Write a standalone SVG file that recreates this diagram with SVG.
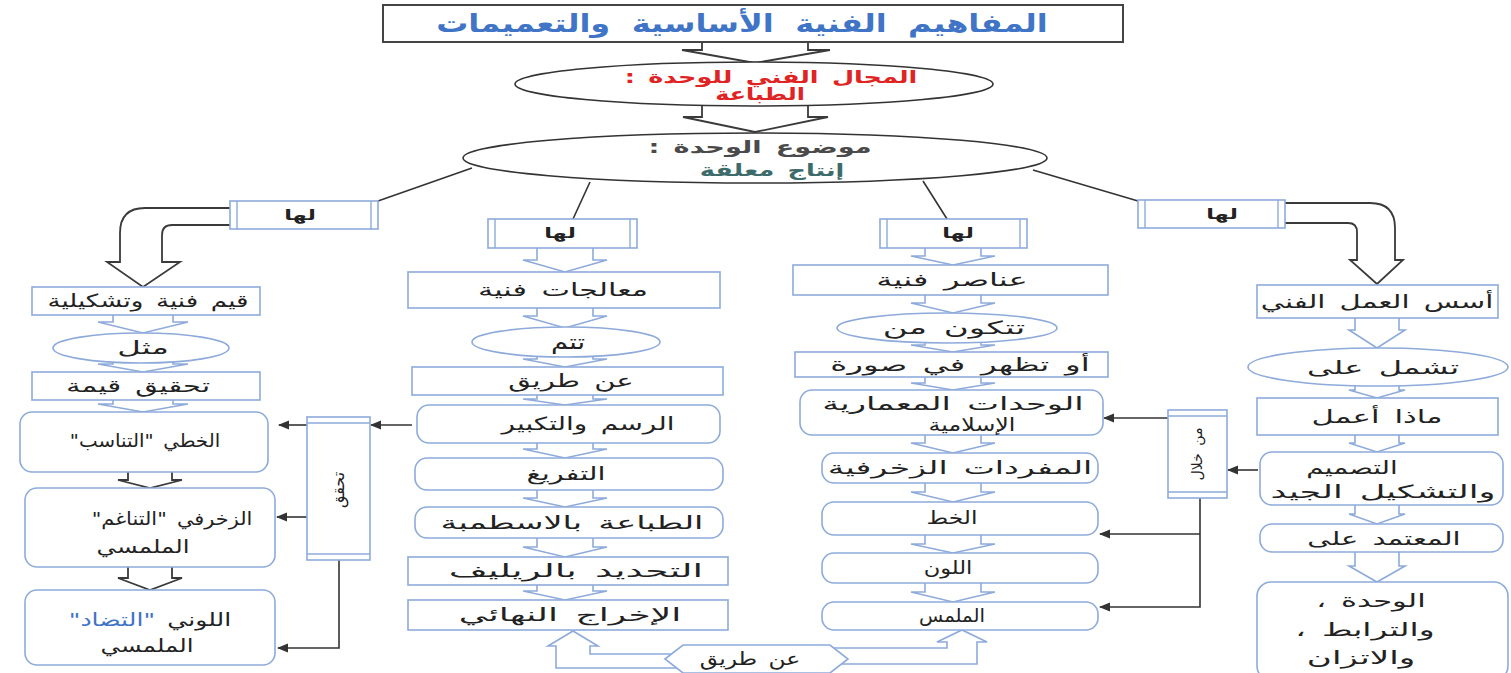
<svg xmlns="http://www.w3.org/2000/svg" width="1511" height="673" viewBox="0 0 1511 673">
<style>
.lb{fill:#fff;stroke:#8eaadb;stroke-width:1.6}
.dk{fill:#fff;stroke:#3a3a3a;stroke-width:1.8}
.ln{fill:none;stroke:#333;stroke-width:1.6}
.dl{fill:none;stroke:#8eaadb;stroke-width:1.4}
.t{font-family:"DejaVu Sans",sans-serif;font-size:18px;fill:#222;text-anchor:middle;direction:rtl;word-spacing:3px}
.s{font-size:14px;font-weight:bold}
.b{font-weight:bold}
</style>
<defs>
<marker id="ah" viewBox="0 0 10 10" refX="9" refY="5" markerWidth="7" markerHeight="7" orient="auto"><path d="M0,1 L10,5 L0,9 z" fill="#333"/></marker>
</defs>
<rect width="1511" height="673" fill="#fff"/>

<g id="connectors">
  <path class="dk" d="M702,42 L702,50 L682,50 L755,63 L830,50 L808,50 L808,42"/>
  <path class="dk" d="M702,105 L702,117 L683,117 L755,132 L828,117 L808,117 L808,105"/>
  <path class="ln" d="M472,168 L378,201"/>
  <path class="ln" d="M590,182 L573,219"/>
  <path class="ln" d="M923,181 L947,219"/>
  <path class="ln" d="M1033,170 L1138,201"/>
  <path class="dk" d="M230,208 L145,208 Q120,208 120,233 L120,262 L107,262 L143,287 L180,262 L162,262 L162,235 Q162,225 172,225 L230,225"/>
  <path class="dk" d="M1285,203 L1370,203 Q1395,203 1395,228 L1395,260 L1403,260 L1377,284 L1350,260 L1357,260 L1357,232 Q1357,223 1348,223 L1285,223"/>
  <path class="lb" d="M113,315 L113,322 L98,322 L143,333 L188,322 L173,322 L173,315"/>
  <path class="lb" d="M113,358 L113,364 L98,364 L143,372 L188,364 L173,364 L173,358"/>
  <path class="lb" d="M113,400 L113,404 L98,404 L143,412 L188,404 L173,404 L173,400"/>
  <path class="dk" d="M128,472 L128,480 L118,480 L150,488 L182,480 L172,480 L172,472"/>
  <path class="dk" d="M128,567 L128,578 L118,578 L150,590 L182,578 L172,578 L172,567"/>
  <path class="lb" d="M537,248 L537,260 L523,260 L565,272 L607,260 L593,260 L593,248"/>
  <path class="lb" d="M537,308 L537,316 L523,316 L565,328 L607,316 L593,316 L593,308"/>
  <path class="lb" d="M537,352 L537,359 L523,359 L565,367 L607,359 L593,359 L593,352"/>
  <path class="lb" d="M537,395 L537,399 L523,399 L565,405 L607,399 L593,399 L593,395"/>
  <path class="lb" d="M537,443 L537,449 L523,449 L565,458 L607,449 L593,449 L593,443"/>
  <path class="lb" d="M537,490 L537,498 L523,498 L565,507 L607,498 L593,498 L593,490"/>
  <path class="lb" d="M537,538 L537,547 L523,547 L565,557 L607,547 L593,547 L593,538"/>
  <path class="lb" d="M537,585 L537,591 L523,591 L565,600 L607,591 L593,591 L593,585"/>
  <path class="lb" d="M925,248 L925,256 L911,256 L953,265 L995,256 L981,256 L981,248"/>
  <path class="lb" d="M925,295 L925,303 L911,303 L953,313 L995,303 L981,303 L981,295"/>
  <path class="lb" d="M925,340 L925,345 L911,345 L953,352 L995,345 L981,345 L981,340"/>
  <path class="lb" d="M925,377 L925,383 L911,383 L953,390 L995,383 L981,383 L981,377"/>
  <path class="lb" d="M925,435 L925,443 L911,443 L953,453 L995,443 L981,443 L981,435"/>
  <path class="lb" d="M925,483 L925,492 L911,492 L953,502 L995,492 L981,492 L981,483"/>
  <path class="lb" d="M925,535 L925,544 L911,544 L953,553 L995,544 L981,544 L981,535"/>
  <path class="lb" d="M925,583 L925,592 L911,592 L953,602 L995,592 L981,592 L981,583"/>
  <path class="lb" d="M1355,318 L1355,330 L1349,330 L1377,348 L1405,330 L1399,330 L1399,318"/>
  <path class="lb" d="M1355,382 L1355,390 L1349,390 L1377,398 L1405,390 L1399,390 L1399,382"/>
  <path class="lb" d="M1355,435 L1355,443 L1349,443 L1377,452 L1405,443 L1399,443 L1399,435"/>
  <path class="lb" d="M1355,505 L1355,514 L1349,514 L1377,524 L1405,514 L1399,514 L1399,505"/>
  <path class="lb" d="M1355,552 L1355,566 L1349,566 L1377,582 L1405,566 L1399,566 L1399,552"/>
  <path class="lb" d="M690,668 L556,668 L556,646 L548,646 L573,631 L598,646 L590,646 L590,654 L690,654"/>
  <path class="lb" d="M825,648 L947,648 L947,642 L937,642 L962,630 L987,642 L977,642 L977,664 L825,664"/>
  <path class="ln" d="M412,425 L371,425" marker-end="url(#ah)"/>
  <path class="ln" d="M307,425 L279,425" marker-end="url(#ah)"/>
  <path class="ln" d="M307,517 L277,517" marker-end="url(#ah)"/>
  <path class="ln" d="M339,560 L339,648 L278,648" marker-end="url(#ah)"/>
  <path class="ln" d="M1168,418 L1104,418" marker-end="url(#ah)"/>
  <path class="ln" d="M1258,470 L1228,470" marker-end="url(#ah)"/>
  <path class="ln" d="M1200,498 L1200,607 L1100,607" marker-end="url(#ah)"/>
  <path class="ln" d="M1200,534 L1100,534" marker-end="url(#ah)"/>
</g>

<g id="title">
  <rect x="383" y="5" width="740" height="37" fill="#fff" stroke="#444" stroke-width="2"/>
  <text class="t b" transform="translate(742,32) scale(1.28,1)" style="font-size:25px;fill:#3f74c6;word-spacing:8px">المفاهيم  الفنية الأساسية والتعميمات</text>
</g>

<g id="field">
  <ellipse cx="754" cy="84" rx="239" ry="22" fill="#fff" stroke="#333" stroke-width="1.6"/>
  <text class="t b" transform="translate(771,83) scale(1.5,1)" style="font-size:17px;fill:#e02424">المجال الفني للوحدة :</text>
  <text class="t b" transform="translate(760,100) scale(1.4,1)" style="font-size:17px;fill:#e02424">الطباعة</text>
</g>

<g id="topic">
  <ellipse cx="755" cy="158" rx="292" ry="25" fill="#fff" stroke="#333" stroke-width="1.6"/>
  <text class="t b" transform="translate(760,153) scale(1.6,1)" style="font-size:17px;fill:#4a4a4a">موضوع الوحدة :</text>
  <text class="t b" transform="translate(772,176) scale(1.5,1)" style="font-size:17px;fill:#3d6b6b">إنتاج معلقة</text>
</g>

<g id="laha1">
  <rect class="lb" x="230" y="201" width="148" height="28"/>
  <path class="dl" d="M237,201 V229 M371,201 V229"/>
  <text class="t s" transform="translate(300,220) scale(1.6,1)">لها</text>
</g>
<g id="qiyam">
  <rect class="lb" x="32" y="287" width="228" height="28"/>
  <text class="t" transform="translate(148,307) scale(1.45,1)">قيم فنية وتشكيلية</text>
</g>
<g id="mithl">
  <ellipse class="lb" cx="141" cy="348" rx="88" ry="15"/>
  <text class="t" transform="translate(143,354) scale(1.8,1)">مثل</text>
</g>
<g id="tahqiq-qima">
  <rect class="lb" x="32" y="372" width="228" height="28"/>
  <text class="t" transform="translate(138,392) scale(1.62,1)">تحقيق قيمة</text>
</g>
<g id="tanasub">
  <rect class="lb" x="20" y="412" width="248" height="60" rx="12"/>
  <text class="t" transform="translate(145,447) scale(1.1,1)">الخطي "التناسب"</text>
</g>
<g id="tanaghum">
  <rect class="lb" x="25" y="488" width="250" height="79" rx="12"/>
  <text class="t" transform="translate(172,525) scale(1.16,1)">الزخرفي "التناغم"</text>
  <text class="t" transform="translate(143,553) scale(1.36,1)">الملمسي</text>
</g>
<g id="tadad">
  <rect class="lb" x="25" y="590" width="250" height="75" rx="12"/>
  <text class="t" transform="translate(150,626) scale(1.4,1)">اللوني <tspan style="fill:#3f74c6">"التضاد"</tspan></text>
  <text class="t" transform="translate(147,652) scale(1.36,1)">الملمسي</text>
</g>
<g id="tahqiq">
  <rect class="lb" x="307" y="417" width="63" height="143"/>
  <path class="dl" d="M307,423 H370 M307,554 H370"/>
  <text class="t" style="font-size:16px" transform="translate(344,490) rotate(-90)">تحقق</text>
</g>

<g id="laha2">
  <rect class="lb" x="488" y="219" width="149" height="29"/>
  <path class="dl" d="M495,219 V248 M630,219 V248"/>
  <text class="t s" transform="translate(560,238) scale(1.6,1)">لها</text>
</g>
<g id="muaalajat">
  <rect class="lb" x="408" y="272" width="312" height="36"/>
  <text class="t" transform="translate(563,296) scale(1.68,1)">معالجات فنية</text>
</g>
<g id="tatim">
  <ellipse class="lb" cx="566" cy="342" rx="94" ry="15"/>
  <text class="t" style="font-size:21px" transform="translate(568,349) scale(1.3,1)">تتم</text>
</g>
<g id="an-tariq2">
  <rect class="lb" x="412" y="367" width="311" height="28"/>
  <text class="t" transform="translate(571,387) scale(1.62,1)">عن طريق</text>
</g>
<g id="rasm">
  <rect class="lb" x="417" y="405" width="303" height="38" rx="12"/>
  <text class="t" transform="translate(588,430) scale(1.55,1)">الرسم والتكبير</text>
</g>
<g id="tafrigh">
  <rect class="lb" x="415" y="458" width="308" height="32" rx="12"/>
  <text class="t" transform="translate(566,480) scale(1.6,1)">التفريغ</text>
</g>
<g id="tibaa">
  <rect class="lb" x="415" y="507" width="308" height="31" rx="12"/>
  <text class="t" transform="translate(572,529) scale(1.86,1)">الطباعة بالاسطمبة</text>
</g>
<g id="tahdid">
  <rect class="lb" x="408" y="557" width="320" height="28"/>
  <text class="t" transform="translate(576,577) scale(2.1,1)">التحديد بالريليف</text>
</g>
<g id="ikhraj">
  <rect class="lb" x="408" y="600" width="320" height="30"/>
  <text class="t" transform="translate(570,621) scale(2,1)">الإخراج النهائي</text>
</g>
<g id="an-tariq-bottom">
  <polygon class="lb" points="665,659 683,645 830,645 848,659 830,673 683,673"/>
  <text class="t" transform="translate(750,665) scale(1.3,1)">عن طريق</text>
</g>

<g id="laha3">
  <rect class="lb" x="880" y="219" width="147" height="29"/>
  <path class="dl" d="M887,219 V248 M1020,219 V248"/>
  <text class="t s" transform="translate(958,238) scale(1.6,1)">لها</text>
</g>
<g id="anasir">
  <rect class="lb" x="793" y="265" width="315" height="30"/>
  <text class="t" transform="translate(952,286) scale(1.79,1)">عناصر فنية</text>
</g>
<g id="tatakawan">
  <ellipse class="lb" cx="947" cy="328" rx="110" ry="15"/>
  <text class="t" transform="translate(954,334) scale(1.9,1)">تتكون من</text>
</g>
<g id="aw-tazhar">
  <rect class="lb" x="795" y="352" width="313" height="25"/>
  <text class="t" transform="translate(960,371) scale(1.8,1)">أو تظهر في صورة</text>
</g>
<g id="wahadat">
  <rect class="lb" x="800" y="390" width="303" height="45" rx="12"/>
  <text class="t" transform="translate(953,410) scale(1.87,1)">الوحدات المعمارية</text>
  <text class="t" transform="translate(972,431) scale(1.32,1)">الإسلامية</text>
</g>
<g id="mufradat">
  <rect class="lb" x="822" y="453" width="276" height="30" rx="12"/>
  <text class="t" transform="translate(960,474) scale(1.84,1)">المفردات الزخرفية</text>
</g>
<g id="khat">
  <rect class="lb" x="822" y="502" width="276" height="33" rx="12"/>
  <text class="t" transform="translate(952,524) scale(1.3,1)">الخط</text>
</g>
<g id="lawn">
  <rect class="lb" x="822" y="553" width="276" height="30" rx="12"/>
  <text class="t" transform="translate(948,574) scale(1.25,1)">اللون</text>
</g>
<g id="malmas">
  <rect class="lb" x="822" y="602" width="276" height="28" rx="12"/>
  <text class="t" transform="translate(952,622) scale(1.1,1)">الملمس</text>
</g>
<g id="min-khilal">
  <rect class="lb" x="1168" y="410" width="59" height="88"/>
  <path class="dl" d="M1168,416 H1227 M1168,492 H1227"/>
  <text class="t" style="font-size:14px" transform="translate(1202,454) rotate(-90)">من خلال</text>
</g>

<g id="laha4">
  <rect class="lb" x="1138" y="200" width="147" height="28"/>
  <path class="dl" d="M1145,200 V228 M1278,200 V228"/>
  <text class="t s" transform="translate(1222,219) scale(1.6,1)">لها</text>
</g>
<g id="usus">
  <rect class="lb" x="1257" y="285" width="241" height="33"/>
  <text class="t" transform="translate(1377,308) scale(1.62,1)">أسس العمل الفني</text>
</g>
<g id="tashmal">
  <ellipse class="lb" cx="1378" cy="367" rx="130" ry="19"/>
  <text class="t" transform="translate(1383,374) scale(1.78,1)">تشمل على</text>
</g>
<g id="madha">
  <rect class="lb" x="1257" y="398" width="241" height="37"/>
  <text class="t" transform="translate(1377,423) scale(1.71,1)">ماذا أعمل</text>
</g>
<g id="tasmim">
  <rect class="lb" x="1260" y="452" width="243" height="53" rx="12"/>
  <text class="t" transform="translate(1352,474) scale(1.54,1)">التصميم</text>
  <text class="t" transform="translate(1383,498) scale(1.95,1)">والتشكيل الجيد</text>
</g>
<g id="mutamad">
  <rect class="lb" x="1260" y="524" width="243" height="28" rx="12"/>
  <text class="t" transform="translate(1384,545) scale(1.61,1)">المعتمد على</text>
</g>
<g id="wahda">
  <rect class="lb" x="1257" y="582" width="251" height="98" rx="14"/>
  <text class="t" transform="translate(1371,607) scale(1.7,1)">الوحدة ،</text>
  <text class="t" transform="translate(1365,636) scale(1.83,1)">والترابط ،</text>
  <text class="t" transform="translate(1361,664) scale(1.9,1)">والاتزان</text>
</g>
</svg>
